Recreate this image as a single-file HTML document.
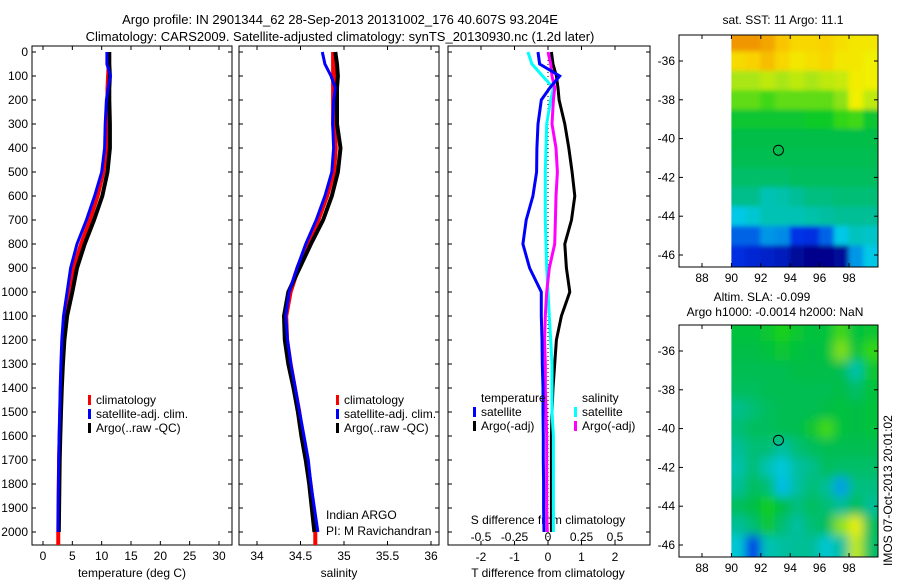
<!DOCTYPE html>
<html><head><meta charset="utf-8"><style>
html,body{margin:0;padding:0;background:#fff;}
svg{display:block;font-family:"Liberation Sans",sans-serif;}
text{font-size:12px;fill:#000;}
</style></head><body>
<svg id="fig" width="900" height="580" viewBox="0 0 900 580" xmlns="http://www.w3.org/2000/svg">
<text x="340" y="24" text-anchor="middle" style="font-size:13px">Argo profile: IN 2901344_62 28-Sep-2013 20131002_176 40.607S 93.204E</text>
<text x="340" y="41" text-anchor="middle" style="font-size:13px">Climatology: CARS2009. Satellite-adjusted climatology: synTS_20130930.nc (1.2d later)</text>
<g id="g"></g>
</svg>
<script>
const depths=[0,50,100,150,200,300,400,500,600,700,800,900,1000,1100,1200,1300,1400,1500,1600,1700,1800,1900,2000];
const climT=[11.2,11.2,11.1,11.0,11.0,10.9,10.8,10.3,9.3,8.0,6.5,5.2,4.3,3.7,3.4,3.2,3.05,2.95,2.85,2.75,2.7,2.65,2.6];
const satT=[10.9,10.9,11.5,11.1,10.8,10.6,10.5,10.0,8.8,7.4,5.8,4.7,4.1,3.5,3.2,3.05,2.93,2.85,2.75,2.68,2.62,2.58,2.55];
const argoT=[11.3,11.3,11.4,11.3,11.3,11.4,11.4,11.0,10.1,8.7,7.1,5.8,5.0,4.1,3.65,3.4,3.2,3.07,2.95,2.85,2.8,2.75,2.7];
const climS=[34.88,34.88,34.88,34.88,34.88,34.88,34.9,34.88,34.8,34.7,34.58,34.47,34.38,34.33,34.34,34.38,34.43,34.48,34.52,34.57,34.61,34.64,34.67];
const satS=[34.75,34.78,34.85,34.9,34.88,34.87,34.88,34.86,34.78,34.68,34.56,34.46,34.37,34.33,34.35,34.39,34.44,34.49,34.54,34.59,34.62,34.66,34.7];
const argoS=[34.9,34.92,34.93,34.92,34.92,34.92,34.96,34.93,34.86,34.76,34.62,34.49,34.36,34.31,34.32,34.36,34.42,34.47,34.51,34.56,34.6,34.63,34.66];
const dTsat=[-0.3,-0.25,0.35,0.05,-0.2,-0.3,-0.33,-0.34,-0.45,-0.65,-0.75,-0.55,-0.2,-0.2,-0.18,-0.17,-0.15,-0.15,-0.14,-0.14,-0.13,-0.13,-0.12];
const dTargo=[0.1,0.15,0.25,0.3,0.33,0.5,0.62,0.72,0.8,0.7,0.5,0.55,0.65,0.4,0.25,0.2,0.15,0.12,0.1,0.1,0.1,0.1,0.1];
const dSsat=[-0.15,-0.12,-0.04,0.04,0.02,-0.01,-0.015,-0.02,-0.02,-0.02,-0.015,-0.01,0,0.01,0.02,0.03,0.03,0.03,0.04,0.04,0.04,0.04,0.04];
const dSargo=[0,0.02,0.03,0.05,0.04,0.03,0.06,0.07,0.06,0.055,0.05,0.01,-0.01,-0.02,-0.025,-0.02,-0.02,-0.015,-0.01,-0.01,-0.01,-0.01,-0.005];
const depthTicks=[0,100,200,300,400,500,600,700,800,900,1000,1100,1200,1300,1400,1500,1600,1700,1800,1900,2000];
const tempTicks=[0,5,10,15,20,25,30];
const salTicks=[34,34.5,35,35.5,36];
const tdTicks=[-2,-1,0,1,2];
const sdTicks=[-0.5,-0.25,0,0.25,0.5];
const sdLabels=["-0.5","-0.25","0","0.25","0.5"];
const sstLats=[-35,-36,-37,-38,-39,-40,-41,-42,-43,-44,-45,-46];
const sstLons=[90.5,91.5,92.5,93.5,94.5,95.5,96.5,97.5,98.5,99.5];
const sstVals=[
[0.82,0.82,0.8,0.76,0.73,0.73,0.74,0.71,0.69,0.69],
[0.72,0.74,0.77,0.73,0.69,0.71,0.73,0.69,0.69,0.67],
[0.6,0.6,0.62,0.6,0.62,0.6,0.62,0.63,0.68,0.67],
[0.55,0.55,0.53,0.55,0.55,0.55,0.55,0.58,0.67,0.62],
[0.47,0.47,0.47,0.47,0.47,0.48,0.48,0.52,0.53,0.47],
[0.45,0.45,0.45,0.45,0.45,0.45,0.45,0.45,0.45,0.45],
[0.44,0.44,0.44,0.44,0.44,0.44,0.44,0.44,0.44,0.44],
[0.42,0.42,0.42,0.42,0.43,0.43,0.43,0.43,0.43,0.43],
[0.39,0.39,0.35,0.36,0.38,0.4,0.4,0.41,0.41,0.41],
[0.3,0.32,0.35,0.35,0.35,0.36,0.37,0.38,0.38,0.38],
[0.2,0.2,0.25,0.24,0.15,0.14,0.2,0.3,0.34,0.33],
[0.14,0.12,0.1,0.08,0.02,0.0,0.0,0.02,0.25,0.3]];
const slaVals=[
[.46,.46,.47,.5,.47,.46,.46,.53,.46,.47],
[.45,.45,.46,.47,.46,.45,.46,.57,.46,.52],
[.44,.44,.44,.44,.45,.45,.45,.44,.36,.47],
[.43,.43,.44,.44,.44,.44,.44,.45,.42,.46],
[.39,.41,.43,.44,.44,.44,.45,.46,.45,.46],
[.41,.43,.43,.44,.44,.47,.53,.46,.45,.46],
[.38,.41,.41,.37,.41,.43,.44,.44,.44,.44],
[.36,.41,.35,.31,.37,.39,.43,.42,.42,.42],
[.38,.43,.41,.29,.37,.41,.38,.26,.40,.40],
[.43,.45,.49,.45,.40,.43,.41,.38,.43,.38],
[.38,.41,.47,.41,.37,.41,.43,.58,.66,.43],
[.32,.15,.35,.37,.38,.38,.32,.37,.62,.42]];
const latTicks=[-36,-38,-40,-42,-44,-46];
const lonTicks=[88,90,92,94,96,98];
const argoLon=93.2, argoLat=-40.6;

const NS="http://www.w3.org/2000/svg";
const G=document.getElementById('g');
function mk(tag,at,parent){const e=document.createElementNS(NS,tag);for(const k in at)e.setAttribute(k,at[k]);(parent||G).appendChild(e);return e;}
function txt(x,y,s,anchor,name,parent){const t=mk('text',{x:x,y:y,'text-anchor':anchor||'middle'},parent);t.textContent=s;


return t;}
const yD=d=>52+d*0.24;
const PB=545;
function panel(x0,x1,name){const r=mk('rect',{x:x0,y:46,width:x1-x0,height:PB-46,fill:'none',stroke:'#000','stroke-width':1});

}
function ytick(x0,x1,d){mk('line',{x1:x0,x2:x0+4,y1:yD(d),y2:yD(d),stroke:'#000'});mk('line',{x1:x1,x2:x1-4,y1:yD(d),y2:yD(d),stroke:'#000'});}
function xtick(x){mk('line',{x1:x,x2:x,y1:46,y2:50,stroke:'#000'});mk('line',{x1:x,x2:x,y1:PB,y2:PB-4,stroke:'#000'});}
function line(xs,ys,col,w,name){const p=mk('polyline',{points:xs.map((x,i)=>x.toFixed(1)+','+ys[i].toFixed(1)).join(' '),fill:'none',stroke:col,'stroke-width':w,'stroke-linejoin':'miter'});

}
// panel 1
const xT=t=>43+t*(176/30);
panel(32,232,'temperature-axes');
depthTicks.forEach(d=>{ytick(32,232,d);txt(28,yD(d)+4,String(d),'end','depth-tick-label');});
tempTicks.forEach(t=>{xtick(xT(t));txt(xT(t),560,String(t),'middle','temp-tick-label');});
txt(132,577,'temperature (deg C)','middle','x-axis-title-temperature');
line(climT.map(xT),depths.map(yD),'#ff0000',4,'temp-climatology-line');
mk('line',{x1:xT(2.6),x2:xT(2.6),y1:yD(2000),y2:PB,stroke:'#ff0000','stroke-width':4});
line(argoT.map(xT),depths.map(yD),'#000',4,'temp-argo-line');
line(satT.map(xT),depths.map(yD),'#0000ff',3,'temp-satellite-line');
// panel 2
const xS=s=>257+(s-34)*87;
panel(239,439,'salinity-axes');
depthTicks.forEach(d=>ytick(239,439,d));
salTicks.forEach(s=>{xtick(xS(s));txt(xS(s),560,String(s),'middle','salinity-tick-label');});
txt(339,577,'salinity','middle','x-axis-title-salinity');
line(climS.map(xS),depths.map(yD),'#ff0000',5,'sal-climatology-line');
mk('line',{x1:xS(34.67),x2:xS(34.67),y1:yD(2000),y2:PB,stroke:'#ff0000','stroke-width':4});
line(argoS.map(xS),depths.map(yD),'#000',4,'sal-argo-line');
line(satS.map(xS),depths.map(yD),'#0000ff',3,'sal-satellite-line');
txt(326,519,'Indian ARGO','start','credit-line-1');
txt(326,535,'PI: M Ravichandran','start','credit-line-2');
function legend(x,y,items,prefix){items.forEach((it,i)=>{const r=mk('rect',{x:x,y:y+i*14-9,width:3,height:10,fill:it[0]});


txt(x+8,y+i*14,it[1],'start',prefix+'-label');});}
const L=[['#ff0000','climatology'],['#0000ff','satellite-adj. clim.'],['#000','Argo(..raw -QC)']];
legend(88,404,L,'temp-legend');legend(336,404,L,'sal-legend');
// panel 3
const xTd=v=>548+v*33.5, xSd=v=>548+v*134;
panel(448,650,'difference-axes');
depthTicks.forEach(d=>ytick(448,650,d));
tdTicks.forEach(v=>{xtick(xTd(v));txt(xTd(v),561,String(v),'middle','tdiff-tick-label');});
sdTicks.forEach((v,i)=>txt(xSd(v),541,sdLabels[i],'middle','sdiff-tick-label'));
txt(548,524,'S difference from climatology','middle','sdiff-axis-title');
txt(548,577,'T difference from climatology','middle','tdiff-axis-title');
mk('line',{x1:548,x2:548,y1:52,y2:PB,stroke:'#000','stroke-dasharray':'1,3'});
line(dTargo.map(xTd),depths.map(yD),'#000',3,'tdiff-argo-line');
line(dSsat.map(xSd),depths.map(yD),'#00ffff',3,'sdiff-satellite-line');
line(dSargo.map(xSd),depths.map(yD),'#ff00ff',3,'sdiff-argo-line');
line(dTsat.map(xTd),depths.map(yD),'#0000ff',3,'tdiff-satellite-line');
txt(481,402,'temperature','start','legend-temperature-heading');
txt(582,402,'salinity','start','legend-salinity-heading');
legend(473,416,[['#0000ff','satellite'],['#000','Argo(-adj)']],'tdiff-legend');
legend(574,416,[['#00ffff','satellite'],['#ff00ff','Argo(-adj)']],'sdiff-legend');
// colormap
const stops=[[0,[0,0,140]],[0.15,[0,50,230]],[0.3,[0,200,230]],[0.38,[0,190,150]],[0.45,[0,190,70]],[0.5,[20,210,20]],[0.6,[170,230,20]],[0.67,[240,240,0]],[0.75,[250,205,0]],[0.82,[240,150,0]],[0.9,[220,100,0]]];
function cmap(v){for(let i=1;i<stops.length;i++){if(v<=stops[i][0]){const a=stops[i-1],b=stops[i],f=(v-a[0])/(b[0]-a[0]);return 'rgb('+a[1].map((c,k)=>Math.round(c+(b[1][k]-c)*f)).join(',')+')';}}return 'rgb(220,100,0)';}
const defs=mk('defs',{});
const f1=mk('filter',{id:'bl1',x:'-10%',y:'-10%',width:'120%',height:'120%'},defs);mk('feGaussianBlur',{stdDeviation:2.5},f1);
const f2=mk('filter',{id:'bl2',x:'-10%',y:'-10%',width:'120%',height:'120%'},defs);mk('feGaussianBlur',{stdDeviation:5},f2);
function map(top,vals,name,filt){
  const L0=679,R0=878,B0=top+232;
  const xL=lon=>702+(lon-88)*14.7, yL=lat=>top+26+(-36-lat)*19.4;
  const cid='clip'+top;
  const cp=mk('clipPath',{id:cid},defs);mk('rect',{x:L0,y:top,width:R0-L0,height:B0-top},cp);
  const g=mk('g',{'clip-path':'url(#'+cid+')'});
  
  
  const inner=mk('g',{filter:'url(#'+filt+')'},g);
  sstLats.forEach((lat,i)=>sstLons.forEach((lon,j)=>{
    const ex0=j==0?20:0, ex1=j==9?20:0, ey0=i==0?30:0, ey1=i==11?30:0;
    const c=mk('rect',{x:xL(lon-0.5)-0.5-ex0,y:yL(lat+0.5)-ey0,width:14.7+1+ex0+ex1,height:19.4+1+ey0+ey1,fill:cmap(vals[i][j])},inner);
    
    
  }));
  mk('rect',{x:L0,y:top,width:xL(90)-L0,height:B0-top,fill:'#fff'},g);
  const fr=mk('rect',{x:L0,y:top,width:R0-L0,height:B0-top,fill:'none',stroke:'#000'});
  
  
  latTicks.forEach(l=>{const y=yL(l);mk('line',{x1:L0,x2:L0+4,y1:y,y2:y,stroke:'#000'});mk('line',{x1:R0,x2:R0-4,y1:y,y2:y,stroke:'#000'});txt(675,y+4,String(l),'end',name+'-lat-label');});
  lonTicks.forEach(l=>{const x=xL(l);mk('line',{x1:x,x2:x,y1:top,y2:top+4,stroke:'#000'});mk('line',{x1:x,x2:x,y1:B0,y2:B0-4,stroke:'#000'});txt(x,B0+15,String(l),'middle',name+'-lon-label');});
  const m=mk('circle',{cx:xL(argoLon),cy:yL(argoLat),r:5,fill:'none',stroke:'#000'});
  
  
}
map(35,sstVals,'sst-map','bl1');
map(325,slaVals,'sla-map','bl2');
txt(783,24,'sat. SST: 11 Argo: 11.1','middle','sst-map-title');
txt(762,301,'Altim. SLA: -0.099','middle','sla-map-title-1');
txt(775,316,'Argo h1000: -0.0014 h2000: NaN','middle','sla-map-title-2');
const v=txt(0,0,'IMOS 07-Oct-2013 20:01:02','start','timestamp-label');
v.setAttribute('transform','translate(892,566) rotate(-90)');
</script>
</body></html>
